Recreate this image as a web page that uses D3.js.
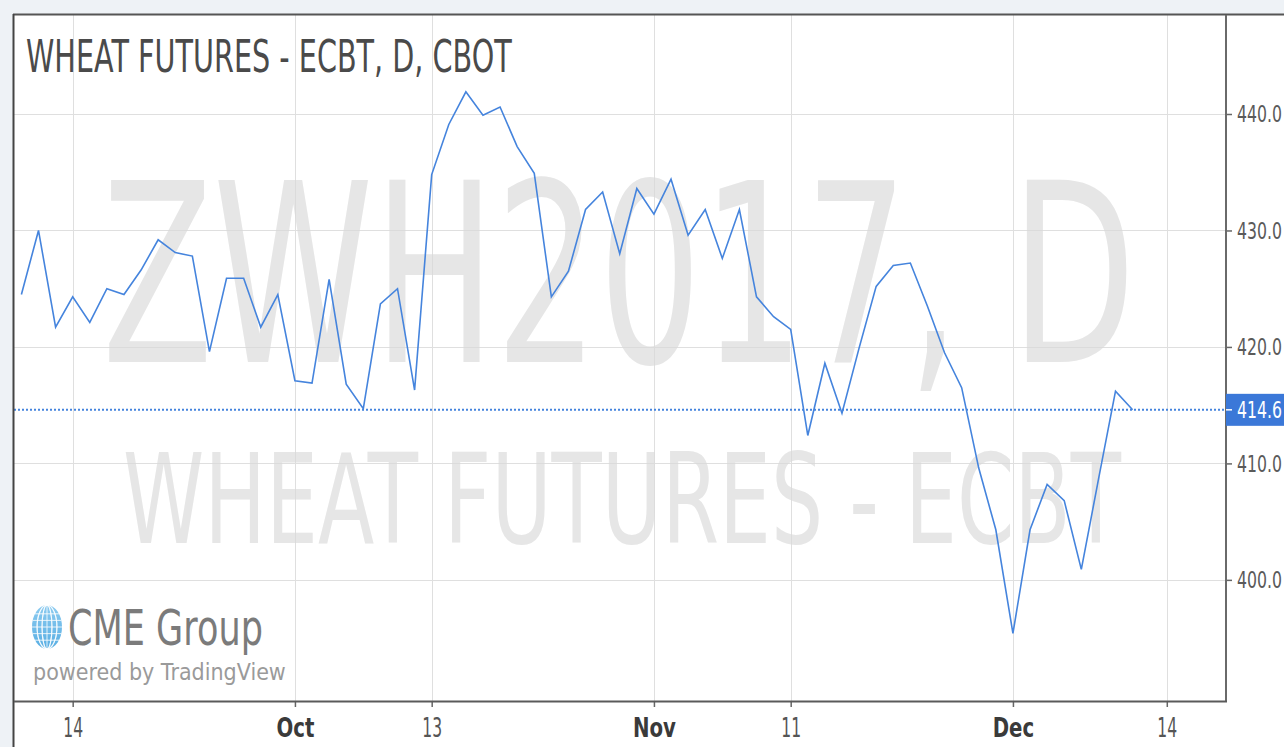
<!DOCTYPE html>
<html><head><meta charset="utf-8">
<script src="https://cdn.jsdelivr.net/npm/d3@7"></script>
<style>html,body{margin:0;padding:0;background:#eef2f6;} svg{display:block;font-family:"DejaVu Sans",sans-serif;}</style>
</head><body><svg id="c" width="1284" height="747"></svg>
<script>
// ---- data ----
const dates = ["2016-09-09","2016-09-12","2016-09-13","2016-09-14","2016-09-15","2016-09-16","2016-09-19","2016-09-20","2016-09-21","2016-09-22","2016-09-23","2016-09-26","2016-09-27","2016-09-28","2016-09-29","2016-09-30",
"2016-10-03","2016-10-04","2016-10-05","2016-10-06","2016-10-07","2016-10-10","2016-10-11","2016-10-12","2016-10-13","2016-10-14","2016-10-17","2016-10-18","2016-10-19","2016-10-20","2016-10-21","2016-10-24","2016-10-25","2016-10-26","2016-10-27","2016-10-28","2016-10-31",
"2016-11-01","2016-11-02","2016-11-03","2016-11-04","2016-11-07","2016-11-08","2016-11-09","2016-11-10","2016-11-11","2016-11-14","2016-11-15","2016-11-16","2016-11-17","2016-11-18","2016-11-21","2016-11-22","2016-11-23","2016-11-25","2016-11-28","2016-11-29","2016-11-30",
"2016-12-01","2016-12-02","2016-12-05","2016-12-06","2016-12-07","2016-12-08","2016-12-09","2016-12-12"];
const prices = [424.5,430.0,421.7,424.3,422.1,425.0,424.5,426.6,429.2,428.1,427.8,419.6,425.9,425.9,421.7,424.5,
417.1,416.9,425.8,416.8,414.7,423.7,425.0,416.3,434.8,439.1,441.9,439.9,440.6,437.2,434.9,424.3,426.5,431.8,433.3,428.0,433.6,
431.4,434.4,429.6,431.8,427.6,431.8,424.3,422.6,421.5,412.4,418.6,414.3,419.9,425.2,427.0,427.2,423.5,419.5,416.5,409.6,404.3,
395.4,404.3,408.2,406.8,400.9,408.6,416.2,414.6];
// time-axis ticks, as trading-day index (Sep 14, Oct 3, Oct 13, Nov 1, Nov 11, Dec 1, Dec 14)
const tickIndex = [3,16,24,37,45,58,67];
const tickLabels = ["14","Oct","13","Nov","11","Dec","14"];
const monthLabels = ["Oct","Nov","Dec"];
const priceTicks = [400,410,420,430,440];
const lastPrice = 414.6;
const titleText = "WHEAT FUTURES - ECBT, D, CBOT";
const watermark1 = "ZWH2017, D";
const watermark2 = "WHEAT FUTURES - ECBT";
const logoText = "CME Group";
const poweredText = "powered by TradingView";

// ---- layout ----
const L = 14, T = 15, R = 1226, B = 701, W = 1284, H = 747;
const blue = "#4584dd";
const svg = d3.select("#c");

// squeeze a text horizontally to a target width (keeps its bbox honest)
function squeeze(sel, x0, y0, width, anchor) {
  sel.attr("x", 0).attr("y", 0).attr("dy", null).attr("text-anchor", "start");
  const w = sel.node().getComputedTextLength();
  const k = width / w;
  const xs = anchor === "middle" ? x0 - width / 2 : x0;
  sel.attr("transform", `translate(${xs},${y0}) scale(${k},1)`);
  return sel;
}

const x = d3.scaleLinear().domain([0, prices.length - 1]).range([21.4, 1132.6]);
const y = d3.scaleLinear().domain([389.6, 448.5]).range([B, T]);

// panel
svg.append("rect").attr("x", L).attr("y", T).attr("width", W - L).attr("height", H - T).attr("fill", "#fff");

// watermark
squeeze(svg.append("text").text(watermark1).attr("font-size", 249).attr("fill", "#e6e6e6"), 102, 362, 1034);
squeeze(svg.append("text").text(watermark2).attr("font-size", 125).attr("fill", "#e6e6e6"), 123, 543, 998);

// grid
const grid = svg.append("g").attr("stroke", "#dadada").attr("stroke-width", 1).attr("opacity", 0.85);
grid.selectAll("line.h").data(priceTicks).join("line").attr("class", "h")
  .attr("x1", L).attr("x2", R).attr("y1", d => Math.round(y(d)) + 0.5).attr("y2", d => Math.round(y(d)) + 0.5);
grid.selectAll("line.v").data(tickIndex).join("line").attr("class", "v")
  .attr("y1", T).attr("y2", B).attr("x1", d => Math.round(x(d)) + 0.5).attr("x2", d => Math.round(x(d)) + 0.5);

// title
squeeze(svg.append("text").text(titleText).attr("font-size", 45).attr("fill", "#4a4a4a"), 26, 72, 486);

// logo
const globe = svg.append("g");
const gcx = 47, gcy = 627, grx = 15, gry = 22;
const grad = svg.append("defs").append("linearGradient").attr("id", "gl").attr("x1", 0).attr("y1", 0).attr("x2", 0).attr("y2", 1);
grad.append("stop").attr("offset", 0).attr("stop-color", "#8ccbf0");
grad.append("stop").attr("offset", 1).attr("stop-color", "#58aee3");
globe.append("ellipse").attr("cx", gcx).attr("cy", gcy).attr("rx", grx).attr("ry", gry).attr("fill", "url(#gl)");
[-0.66, -0.33, 0, 0.33, 0.66].forEach(f => {
  globe.append("ellipse").attr("cx", gcx).attr("cy", gcy).attr("rx", Math.abs(f) * grx + 0.01).attr("ry", gry)
    .attr("fill", "none").attr("stroke", "#fff").attr("stroke-width", 1.1).attr("opacity", 0.75);
});
[-0.6, -0.3, 0, 0.3, 0.6].forEach(f => {
  const yy = gcy + f * gry, hw = grx * Math.sqrt(1 - f * f);
  globe.append("line").attr("x1", gcx - hw).attr("x2", gcx + hw).attr("y1", yy).attr("y2", yy)
    .attr("stroke", "#fff").attr("stroke-width", 1.1).attr("opacity", 0.75);
});
squeeze(svg.append("text").text(logoText).attr("font-size", 49).attr("fill", "#7b7b7b"), 68, 645, 195);
squeeze(svg.append("text").text(poweredText).attr("font-size", 23).attr("fill", "#9a9a9a"), 33, 680, 253);

// last price dotted line
svg.append("line").attr("x1", L).attr("x2", R).attr("y1", y(lastPrice)).attr("y2", y(lastPrice))
  .attr("stroke", blue).attr("stroke-width", 2).attr("stroke-dasharray", "2,2");

// price line
svg.append("path").datum(prices)
  .attr("d", d3.line().x((d, i) => x(i)).y(d => y(d)))
  .attr("fill", "none").attr("stroke", blue).attr("stroke-width", 1.6).attr("stroke-linejoin", "miter");

// borders
svg.append("line").attr("x1", L - 1).attr("x2", W).attr("y1", T - 0.5).attr("y2", T - 0.5).attr("stroke", "#555").attr("stroke-width", 2);
svg.append("line").attr("x1", L - 0.5).attr("x2", L - 0.5).attr("y1", T - 1).attr("y2", H).attr("stroke", "#444").attr("stroke-width", 2);

// y axis
const yAxis = svg.append("g").attr("transform", `translate(${R},0)`)
  .call(d3.axisRight(y).tickValues(priceTicks).tickFormat(d => d.toFixed(1)).tickSize(6).tickPadding(5));
yAxis.select(".domain").remove();
yAxis.selectAll(".tick line").attr("stroke", "#666").attr("stroke-width", 1.5);
yAxis.selectAll(".tick text").attr("font-size", 23).attr("fill", "#5a5a5a").attr("font-family", "DejaVu Sans")
  .each(function() { squeeze(d3.select(this), 11, 8, 45); });
svg.append("line").attr("x1", R).attr("x2", R).attr("y1", T).attr("y2", B + 1).attr("stroke", "#6a6a6a").attr("stroke-width", 2);

// last price label
const ly = y(lastPrice);
svg.append("rect").attr("x", R).attr("y", ly - 16).attr("width", W - R).attr("height", 32).attr("fill", "#3b78d8");
svg.append("line").attr("x1", R).attr("x2", R + 6).attr("y1", ly).attr("y2", ly).attr("stroke", "#fff").attr("stroke-width", 1.5);
squeeze(svg.append("text").text(lastPrice.toFixed(1)).attr("font-size", 23).attr("fill", "#fff"), R + 11, ly + 8, 45);

// x axis
const xAxis = svg.append("g").attr("transform", `translate(0,${B})`)
  .call(d3.axisBottom(x).tickValues(tickIndex).tickFormat((d, i) => tickLabels[i]).tickSize(6).tickPadding(10));
xAxis.select(".domain").remove();
xAxis.selectAll(".tick line").attr("stroke", "#666").attr("stroke-width", 1.5);
xAxis.selectAll(".tick text")
  .attr("font-size", 26).attr("font-family", "DejaVu Sans")
  .attr("font-weight", (d, i) => monthLabels.includes(tickLabels[i]) ? "bold" : "normal")
  .attr("fill", (d, i) => monthLabels.includes(tickLabels[i]) ? "#3a3a3a" : "#555")
  .each(function(d, i) {
    const t = d3.select(this);
    t.attr("x", 0).attr("y", 0).attr("dy", null);
    const w = this.getComputedTextLength();
    const f = monthLabels.includes(tickLabels[i]) ? 0.76 : 0.6;
    squeeze(t, 0, 36, w * f, "middle");
  });
svg.append("line").attr("x1", L).attr("x2", R + 1).attr("y1", B + 0.5).attr("y2", B + 0.5).attr("stroke", "#5a5a5a").attr("stroke-width", 2);
</script></body></html>
